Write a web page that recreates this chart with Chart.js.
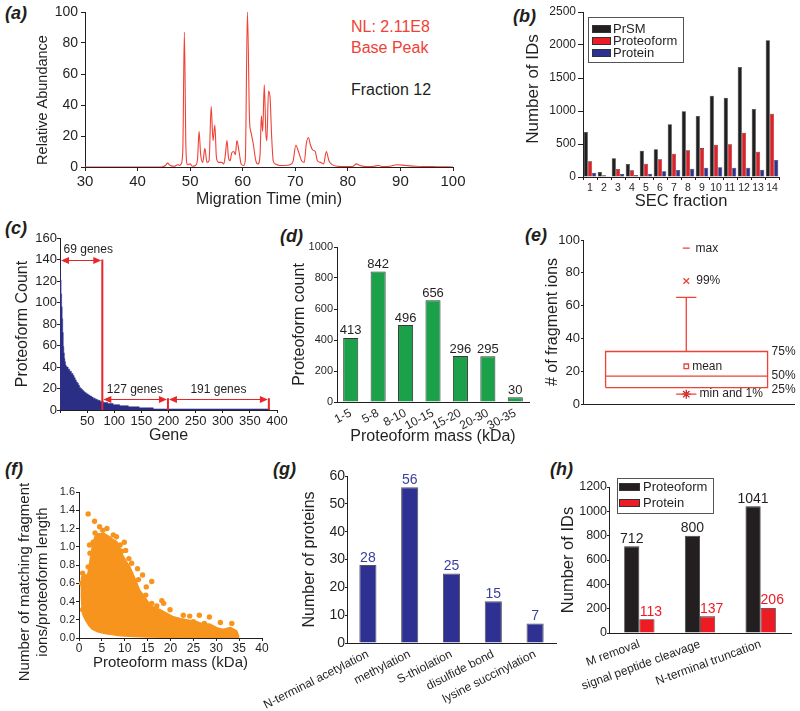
<!DOCTYPE html>
<html>
<head>
<meta charset="utf-8">
<script src="https://cdn.jsdelivr.net/npm/chart.js@4.4.0/dist/chart.umd.min.js"></script>
<style>
  body { margin: 0; width: 800px; height: 711px; position: relative; overflow: hidden; background: #fff;
         font-family: "Liberation Sans", Arial, sans-serif; color: #231f20; }
  canvas { position: absolute; }
  .tag { position: absolute; font-size: 18px; font-weight: bold; font-style: italic; line-height: 1; }
  .note { position: absolute; font-size: 16px; line-height: 1; white-space: nowrap; }
</style>
</head>
<body>
<div class="tag" style="left:5px;top:4px">(a)</div>
<div class="tag" style="left:513px;top:7px">(b)</div>
<div class="tag" style="left:5px;top:219px">(c)</div>
<div class="tag" style="left:280px;top:227px">(d)</div>
<div class="tag" style="left:525px;top:226px">(e)</div>
<div class="tag" style="left:5px;top:460px">(f)</div>
<div class="tag" style="left:273px;top:460px">(g)</div>
<div class="tag" style="left:550px;top:460px">(h)</div>
<div class="note" style="left:351px;top:19px;color:#ef4136">NL: 2.11E8</div>
<div class="note" style="left:351px;top:40px;color:#ef4136">Base Peak</div>
<div class="note" style="left:351px;top:82px">Fraction 12</div>

<script>
// (a) base peak electropherogram, fraction 12
const migrationTime = [
  30, 44.5, 45.3, 45.7, 46.2, 47, 47.6, 48, 48.3, 48.6,
  48.9, 49.2, 49.5, 50, 50.4, 51, 51.4, 51.7, 52.0, 52.4,
  52.8, 53.2, 53.6, 54.0, 54.35, 54.7, 55.0, 55.4, 56, 56.4,
  56.7, 57.0, 57.3, 57.6, 57.9, 58.3, 58.6, 58.9, 59.3, 59.7,
  60.2, 60.5, 60.9, 61.3, 61.6, 62.0, 62.5, 62.9, 63.3, 63.55,
  63.8, 64.1, 64.4, 64.6, 64.9, 65.2, 65.5, 65.8, 66.2, 67,
  68, 69, 69.6, 70.1, 70.6, 71.2, 71.7, 72.1, 72.5, 72.9,
  73.3, 73.8, 74.2, 74.8, 75.4, 75.9, 76.4, 77, 78, 80,
  81, 81.6, 82.3, 83.5, 85, 85.8, 86.6, 88, 89.3, 91,
  93, 95, 97, 100
];
const relAbundance = [
  0, 0, 1, 2.5, 1, 0.5, 1.5, 1, 2, 10,
  87, 12, 1.5, 2, 0.5, 1, 5, 23, 8, 3,
  12, 3, 4, 39, 17, 27, 6, 3, 3, 2,
  8, 17, 6, 4, 9, 10, 8, 17, 10, 2,
  1, 5, 100, 30, 22, 15, 4, 2, 8, 33,
  23, 53, 22, 17, 49, 45, 20, 4, 2, 1,
  1, 1.5, 4, 14, 10, 4, 3, 15, 19, 14,
  11, 10, 4, 3, 2, 10, 4, 1.5, 0.5, 0.3,
  0.5, 2, 1, 0.3, 0.5, 1, 0.3, 0.5, 1.5, 1,
  0.5, 0.3, 0.2, 0
];

// (b) IDs per SEC fraction
const secFractions = ['1','2','3','4','5','6','7','8','9','10','11','12','13','14'];
const prsmIds       = [682, 76, 283, 197, 399, 419, 798, 995, 924, 1232, 1202, 1667, 1030, 2071];
const proteoformIds = [237, 25, 121, 101, 202, 268, 354, 404, 439, 490, 495, 672, 384, 960];
const proteinIds    = [66, 10, 45, 30, 50, 86, 106, 126, 141, 146, 141, 141, 111, 258];

// (c) proteoforms per gene, sorted, as runs of equal count
const runCounts  = [145,132,121,108,96,85,72,59,53,48,45,42,41,40,38,36,34,32,30,28,26,25,23,21,20,19,18,17,16,15,14,13,12,11,10,9,8,7,6,5,4,3,2,1];
const runLengths = [1,1,1,1,1,1,1,1,1,1,1,1,3,3,3,3,2,2,2,2,2,2,2,2,2,2,2,3,3,3,3,3,4,4,5,6,8,10,12,16,20,26,24,191];
const geneGroupEdges  = [78, 199, 385];
const geneGroupTops   = [140, 11, 11];
const geneGroupLevels = [140, 10, 10];
const geneGroupLabels = ['69 genes', '127 genes', '191 genes'];

// (d) proteoform mass distribution
const massBins = ['1-5', '5-8', '8-10', '10-15', '15-20', '20-30', '30-35'];
const massCounts = [413, 842, 496, 656, 296, 295, 30];

// (e) fragment ions per PrSM
const fragP1 = 6, fragMin = 6, fragQ1 = 10, fragMedian = 17, fragMean = 23, fragQ3 = 32;
const fragWhisker = 65, fragP99 = 75, fragMax = 95;

// (f) matching fragment ions / proteoform length vs mass
const coreMass = [1.0, 0.8, 0.8, 1.5, 2.2, 2.7, 3.1, 3.7, 4.2, 5.5, 6.5, 7.2, 8.0, 8.7, 9.3, 10.0, 10.8, 11.5, 12.2, 13.0,
  14.0, 15.0, 16.0, 17.5, 19.0, 20.5, 22.0, 24.0, 25.5, 27.0, 28.5, 30.0, 31.5, 33.0, 34.2, 34.6, 34.6,
  30, 25, 20, 15, 12, 10, 8, 6, 5, 4, 3, 2.3, 1.7, 1.2, 1.0];
const coreRatio = [0.28, 0.45, 0.66, 0.66, 0.70, 0.85, 0.98, 1.10, 1.13, 1.13, 1.10, 1.07, 1.05, 0.98, 0.90, 0.84, 0.78, 0.70, 0.62, 0.52,
  0.45, 0.38, 0.33, 0.30, 0.26, 0.22, 0.20, 0.18, 0.17, 0.14, 0.14, 0.10, 0.08, 0.10, 0.07, 0.02, 0.01,
  0.012, 0.015, 0.02, 0.025, 0.03, 0.035, 0.045, 0.06, 0.07, 0.085, 0.11, 0.15, 0.20, 0.25, 0.28];
const outlierMass  = [2.0, 3.4, 4.5, 6.1, 5.2, 7.5, 8.2, 9.9, 10.2, 10.9, 11.5, 12.8, 13.9, 15.9, 14.7, 14.6, 18.1, 18.5, 15.9, 17.0,
  19.9, 22.8, 24.2, 26.3, 25.0, 28.5, 27.4, 30.9, 33.4, 33.1, 34.2, 0.8, 1.3, 2.0, 2.4, 2.3, 3.1, 3.5, 0.95, 0.6,
  0.8, 12.3, 13.0, 9.3, 9.0];
const outlierRatio = [1.36, 1.28, 1.22, 1.20, 1.18, 1.13, 1.11, 1.05, 0.96, 0.87, 0.82, 0.76, 0.69, 0.62, 0.56, 0.47, 0.41, 0.38, 0.38, 0.35,
  0.31, 0.25, 0.24, 0.25, 0.18, 0.23, 0.16, 0.17, 0.16, 0.09, 0.05, 0.71, 0.67, 0.78, 0.93, 1.02, 1.05, 1.15, 0.56, 0.60,
  0.31, 0.55, 0.64, 0.95, 1.02];

// (g) PTMs
const ptmTypes = ['N-terminal acetylation', 'methylation', 'S-thiolation', 'disulfide bond', 'lysine succinylation'];
const ptmProteins = [28, 56, 25, 15, 7];

// (h) proteolytic processing
const cleavageTypes = ['M removal', 'signal peptide cleavage', 'N-terminal truncation'];
const cleavageProteoforms = [712, 800, 1041];
const cleavageProteins = [113, 137, 206];

const FONT = '"Liberation Sans", Arial, sans-serif';
const INK = '#231f20';
const RED = '#ed1c24';
const NAVY = '#2e3192';
Chart.defaults.font.family = FONT;
Chart.defaults.color = INK;
Chart.defaults.animation = false;
Chart.defaults.responsive = false;
Chart.defaults.devicePixelRatio = 1;
Chart.defaults.plugins.legend.display = false;
Chart.defaults.plugins.tooltip.enabled = false;

// a panel = canvas rect + plot area rect, in page pixels
function frame(x, y, w, h, l, t, r, b) { return {x, y, w, h, l, t, r, b}; }

function canvasFor(f) {
  const c = document.createElement('canvas');
  c.width = f.w; c.height = f.h;
  c.style.left = f.x + 'px'; c.style.top = f.y + 'px';
  c.style.width = f.w + 'px'; c.style.height = f.h + 'px';
  document.body.appendChild(c);
  return c;
}

function layoutFor(f) {
  return {padding: {left: 0, bottom: 0, top: f.t - f.y, right: f.x + f.w - f.r}};
}

const plain = v => String(v);

function tickOpts(o) {
  const t = {display: o.tick > 0, stepSize: o.step, font: {size: o.tick}, padding: o.pad, autoSkip: false,
             minRotation: o.rot || 0, maxRotation: o.rot || 0};
  if (o.fmt) t.callback = o.fmt;
  return t;
}

function yAxis(f, o) {
  return {
    min: o.min, max: o.max,
    border: {display: true, color: INK, width: 1},
    grid: {drawOnChartArea: false, tickLength: o.tl, color: INK},
    ticks: tickOpts(Object.assign({fmt: plain}, o)),
    title: {display: !!o.title, text: o.title, color: INK, font: {size: o.size},
            padding: {top: o.title ? o.cx - f.x - o.size * 0.6 : 0, bottom: 0}},
    afterFit: s => { s.width = f.l - f.x; s.paddingTop = 0; s.paddingBottom = 0; }
  };
}

function xAxis(f, o) {
  return {
    type: o.type, min: o.min, max: o.max, offset: o.offset,
    border: {display: true, color: INK, width: 1},
    grid: {display: o.tl > 0, drawOnChartArea: false, tickLength: o.tl, color: INK},
    ticks: tickOpts(o),
    title: {display: !!o.title, text: o.title, color: INK, font: {size: o.size},
            padding: {top: 0, bottom: o.title ? f.y + f.h - o.cy - o.size * 0.6 : 0}},
    afterFit: s => { s.height = f.y + f.h - f.b; s.paddingLeft = 0; s.paddingRight = 0; }
  };
}

// rotated axis title placed freely (page coords of its centre)
function vTitle(f, lines, size, cx, cy) {
  return chart => {
    const ctx = chart.ctx;
    ctx.save();
    ctx.translate(cx - f.x, cy - f.y);
    ctx.rotate(-Math.PI / 2);
    ctx.font = size + 'px ' + FONT; ctx.fillStyle = INK;
    ctx.textAlign = 'center'; ctx.textBaseline = 'middle';
    lines.forEach((t, i) => ctx.fillText(t, 0, i * size * 1.2));
    ctx.restore();
  };
}

function valueLabels(dsIndex, color, size, dx) {
  return chart => {
    const ctx = chart.ctx, ds = chart.data.datasets[dsIndex];
    ctx.save();
    ctx.font = size + 'px ' + FONT;
    ctx.fillStyle = color; ctx.textAlign = 'center'; ctx.textBaseline = 'alphabetic';
    chart.getDatasetMeta(dsIndex).data.forEach((bar, i) => ctx.fillText(ds.data[i], bar.x + dx, bar.y - 3.5));
    ctx.restore();
  };
}

function boxLegend(f, box, rows) {
  return chart => {
    const ctx = chart.ctx;
    ctx.save();
    ctx.strokeStyle = '#555'; ctx.lineWidth = 1;
    ctx.fillStyle = '#fff';
    ctx.fillRect(box.x - f.x, box.y - f.y, box.w, box.h);
    ctx.strokeRect(box.x - f.x + 0.5, box.y - f.y + 0.5, box.w, box.h);
    ctx.font = box.font + 'px ' + FONT; ctx.textBaseline = 'middle'; ctx.textAlign = 'left';
    rows.forEach((r, i) => {
      const cy = box.rows[i] - f.y;
      ctx.fillStyle = r.color;
      ctx.fillRect(box.sx - f.x, cy - box.sh / 2, box.sw, box.sh);
      ctx.strokeStyle = '#333';
      ctx.strokeRect(box.sx - f.x + 0.5, cy - box.sh / 2 + 0.5, box.sw - 1, box.sh - 1);
      ctx.fillStyle = INK;
      ctx.fillText(r.label, box.tx - f.x, cy + 0.5);
    });
    ctx.restore();
  };
}

let extraId = 0;
function drawer(fns) {
  extraId += 1;
  return {id: 'extras' + extraId, afterDraw(chart) { fns.forEach(fn => fn(chart)); }};
}

// ---------- (a)
const fa = frame(0, 0, 470, 215, 85, 12, 453, 167);
new Chart(canvasFor(fa), {
  type: 'line',
  data: {datasets: [{
    data: migrationTime.map((t, i) => ({x: t, y: relAbundance[i]})),
    borderColor: '#ef4136', borderWidth: 1.1, pointRadius: 0, cubicInterpolationMode: 'monotone'
  }]},
  options: {
    layout: layoutFor(fa),
    scales: {
      x: xAxis(fa, {type: 'linear', min: 30, max: 100, step: 10, tick: 15, tl: 4, pad: 2, fmt: plain,
                    title: 'Migration Time (min)', size: 16, cy: 200}),
      y: yAxis(fa, {min: 0, max: 100, step: 20, tick: 14, tl: 4, pad: 3})
    }
  },
  plugins: [drawer([vTitle(fa, ['Relative Abundance'], 14.5, 43, 100)])]
});

// ---------- (b)
const fb = frame(475, 0, 320, 212, 583, 12, 779, 177);
const barB = {borderColor: '#333', borderWidth: 0.6, barPercentage: 1, categoryPercentage: 0.9};
new Chart(canvasFor(fb), {
  type: 'bar',
  data: {labels: secFractions, datasets: [
    {label: 'PrSM', data: prsmIds, backgroundColor: INK, ...barB},
    {label: 'Proteoform', data: proteoformIds, backgroundColor: RED, ...barB},
    {label: 'Protein', data: proteinIds, backgroundColor: NAVY, ...barB}
  ]},
  options: {
    layout: layoutFor(fb),
    scales: {
      x: xAxis(fb, {type: 'category', offset: true, tick: 10.5, tl: 3, pad: 2,
                    title: 'SEC fraction', size: 16.5, cy: 201}),
      y: yAxis(fb, {min: 0, max: 2500, step: 500, tick: 12, tl: 5, pad: 2})
    }
  },
  plugins: [drawer([
    vTitle(fb, ['Number of IDs'], 17, 533, 89),
    boxLegend(fb, {x: 588, y: 17, w: 95, h: 45, rows: [29, 41, 53], sx: 592, sw: 19, sh: 8, tx: 613, font: 13},
      [{label: 'PrSM', color: INK}, {label: 'Proteoform', color: RED}, {label: 'Protein', color: NAVY}])
  ])]
});

// ---------- (c)
const fc = frame(0, 225, 292, 222, 60, 238, 277, 410);
let geneStart = 0;
const geneSteps = runCounts.map((c, i) => { const p = {x: geneStart, y: c}; geneStart += runLengths[i]; return p; });
geneSteps.push({x: geneStart, y: runCounts[runCounts.length - 1]});
const geneLabelAt = [52, 138, 292];
new Chart(canvasFor(fc), {
  type: 'line',
  data: {datasets: [{
    data: geneSteps, stepped: 'after', fill: 'origin',
    backgroundColor: '#2b2e85', borderColor: '#2b2e85', borderWidth: 0.5, pointRadius: 0
  }]},
  options: {
    layout: layoutFor(fc),
    scales: {
      x: xAxis(fc, {type: 'linear', min: 0, max: 400, step: 50, tick: 13, tl: 3, pad: 1,
                    fmt: v => v === 0 ? '' : String(v), title: 'Gene', size: 16, cy: 436}),
      y: yAxis(fc, {min: 0, max: 160, step: 20, tick: 13, tl: 3, pad: 0,
                    title: 'Proteoform Count', size: 16, cx: 23})
    }
  },
  plugins: [drawer([chart => {
    const ctx = chart.ctx, xs = chart.scales.x, ys = chart.scales.y;
    ctx.save();
    ctx.strokeStyle = '#e8262a'; ctx.fillStyle = '#e8262a';
    ctx.lineWidth = 2;
    geneGroupEdges.forEach((g, i) => {
      ctx.beginPath();
      ctx.moveTo(xs.getPixelForValue(g), ys.getPixelForValue(0));
      ctx.lineTo(xs.getPixelForValue(g), ys.getPixelForValue(geneGroupTops[i]));
      ctx.stroke();
    });
    ctx.lineWidth = 1;
    geneGroupLevels.forEach((lv, i) => {
      const x0 = xs.getPixelForValue(i === 0 ? 0 : geneGroupEdges[i - 1]) + 1;
      const x1 = xs.getPixelForValue(geneGroupEdges[i]) - 1;
      const y = Math.round(ys.getPixelForValue(lv)) + 0.5;
      ctx.beginPath(); ctx.moveTo(x0 + 4, y); ctx.lineTo(x1 - 4, y); ctx.stroke();
      [[x0, 1], [x1, -1]].forEach(([xe, d]) => {
        ctx.beginPath(); ctx.moveTo(xe, y); ctx.lineTo(xe + d * 8, y - 3.5); ctx.lineTo(xe + d * 8, y + 3.5);
        ctx.closePath(); ctx.fill();
      });
    });
    ctx.fillStyle = INK; ctx.font = '12px ' + FONT; ctx.textAlign = 'center'; ctx.textBaseline = 'middle';
    geneGroupLabels.forEach((t, i) => {
      ctx.fillText(t, xs.getPixelForValue(geneLabelAt[i]), ys.getPixelForValue(geneGroupLevels[i]) - 10);
    });
    ctx.restore();
  }])]
});

// ---------- (d)
const fd = frame(275, 225, 262, 222, 337, 247, 529, 402);
new Chart(canvasFor(fd), {
  type: 'bar',
  data: {labels: massBins, datasets: [{
    data: massCounts, backgroundColor: '#1ba14a', borderColor: '#3a3a3a', borderWidth: 1,
    barPercentage: 0.55, categoryPercentage: 1
  }]},
  options: {
    layout: layoutFor(fd),
    scales: {
      x: xAxis(fd, {type: 'category', offset: true, tick: 12, tl: 0, pad: 4, rot: 28,
                    title: 'Proteoform mass (kDa)', size: 16, cy: 437}),
      y: yAxis(fd, {min: 0, max: 1000, step: 200, tick: 11, tl: 3, pad: 1,
                    title: 'Proteoform count', size: 16, cx: 300})
    }
  },
  plugins: [drawer([valueLabels(0, INK, 13, 0)])]
});

// ---------- (e)
const fe = frame(520, 225, 280, 200, 583, 240, 795, 404);
const boxLeft = 0.107, boxRight = 0.874, boxMid = 0.489, capHalf = 0.048;
const boxRed = '#ef4136';
const seg = pts => ({data: pts, showLine: true, borderColor: boxRed, borderWidth: 1.3, pointRadius: 0});
const mark = (y, style, r, extra) => Object.assign({data: [{x: boxMid, y}], pointStyle: style, pointRadius: r,
  borderColor: boxRed, backgroundColor: boxRed, borderWidth: 1.3}, extra || {});
const boxNotes = [
  {t: 'max', x: 0.533, y: fragMax}, {t: '99%', x: 0.536, y: fragP99}, {t: 'mean', x: 0.517, y: fragMean},
  {t: 'min and 1%', x: 0.552, y: fragMin}, {t: '75%', x: 0.893, y: fragQ3}, {t: '50%', x: 0.893, y: fragMedian},
  {t: '25%', x: 0.893, y: fragQ1, dy: 2}
];
new Chart(canvasFor(fe), {
  type: 'scatter',
  data: {datasets: [
    seg([{x: boxLeft, y: fragQ1}, {x: boxRight, y: fragQ1}, {x: boxRight, y: fragQ3}, {x: boxLeft, y: fragQ3}, {x: boxLeft, y: fragQ1}]),
    seg([{x: boxLeft, y: fragMedian}, {x: boxRight, y: fragMedian}]),
    seg([{x: boxMid, y: fragQ3}, {x: boxMid, y: fragWhisker}]),
    seg([{x: boxMid - capHalf, y: fragWhisker}, {x: boxMid + capHalf, y: fragWhisker}]),
    seg([{x: boxMid - capHalf, y: fragMin}, {x: boxMid + capHalf, y: fragMin}]),
    mark(fragMean, 'rect', 3.2, {backgroundColor: '#fff'}),
    mark(fragP99, 'crossRot', 4),
    mark(fragMax, 'line', 3.5),
    mark(fragP1, 'star', 4.5, {borderColor: '#c1272d'})
  ]},
  options: {
    layout: layoutFor(fe),
    scales: {
      x: xAxis(fe, {type: 'linear', min: 0, max: 1, tick: 0, tl: 0, pad: 0}),
      y: yAxis(fe, {min: 0, max: 100, step: 20, tick: 13, tl: 2, pad: 1,
                    title: '# of fragment ions', size: 16, cx: 553})
    }
  },
  plugins: [drawer([chart => {
    const ctx = chart.ctx, xs = chart.scales.x, ys = chart.scales.y;
    ctx.save();
    ctx.fillStyle = INK; ctx.font = '12px ' + FONT; ctx.textAlign = 'left'; ctx.textBaseline = 'middle';
    boxNotes.forEach(n => ctx.fillText(n.t, xs.getPixelForValue(n.x), ys.getPixelForValue(n.y) + (n.dy || 0)));
    ctx.restore();
  }])]
});

// ---------- (f)
const ff = frame(0, 455, 275, 235, 79, 492, 262, 638);
const ORANGE = '#f7941d';
new Chart(canvasFor(ff), {
  type: 'scatter',
  data: {datasets: [
    {type: 'line', data: coreMass.map((m, i) => ({x: m, y: coreRatio[i]})), fill: 'shape',
     backgroundColor: ORANGE, borderColor: ORANGE, borderWidth: 4, borderJoinStyle: 'round', pointRadius: 0, tension: 0},
    {data: outlierMass.map((m, i) => ({x: m, y: outlierRatio[i]})), backgroundColor: ORANGE, borderWidth: 0, pointRadius: 2.7}
  ]},
  options: {
    layout: layoutFor(ff),
    scales: {
      x: xAxis(ff, {type: 'linear', min: 0, max: 40, step: 5, tick: 12, tl: 3, pad: 0, fmt: plain,
                    title: 'Proteoform mass (kDa)', size: 15, cy: 663}),
      y: yAxis(ff, {min: 0, max: 1.6, step: 0.2, tick: 11, tl: 3, pad: 1, fmt: v => v.toFixed(1)})
    }
  },
  plugins: [drawer([vTitle(ff, ['Number of matching fragment', 'ions/proteoform length'], 15, 25, 582)])]
});

// ---------- (g)
const fg = frame(250, 455, 310, 256, 347, 476, 556, 643);
new Chart(canvasFor(fg), {
  type: 'bar',
  data: {labels: ptmTypes, datasets: [{
    data: ptmProteins, backgroundColor: NAVY, borderColor: '#555', borderWidth: 1,
    barPercentage: 0.41, categoryPercentage: 1
  }]},
  options: {
    layout: layoutFor(fg),
    scales: {
      x: xAxis(fg, {type: 'category', offset: true, tick: 12, tl: 0, pad: 4, rot: 27}),
      y: yAxis(fg, {min: 0, max: 60, step: 10, tick: 14, tl: 2, pad: 0,
                    title: 'Number of proteins', size: 16, cx: 310})
    }
  },
  plugins: [drawer([valueLabels(0, '#3b3f9c', 14, 0)])]
});

// ---------- (h)
const fh = frame(530, 455, 270, 256, 609, 487, 791, 633);
new Chart(canvasFor(fh), {
  type: 'bar',
  data: {labels: cleavageTypes, datasets: [
    {label: 'Proteoform', data: cleavageProteoforms, backgroundColor: INK, borderColor: '#333', borderWidth: 0.8,
     barPercentage: 1, categoryPercentage: 0.5},
    {label: 'Protein', data: cleavageProteins, backgroundColor: RED, borderColor: '#333', borderWidth: 0.8,
     barPercentage: 1, categoryPercentage: 0.5}
  ]},
  options: {
    layout: layoutFor(fh),
    scales: {
      x: xAxis(fh, {type: 'category', offset: true, tick: 12, tl: 0, pad: 4, rot: 20}),
      y: yAxis(fh, {min: 0, max: 1200, step: 200, tick: 12.5, tl: 2, pad: 0,
                    title: 'Number of IDs', size: 16.5, cx: 568})
    }
  },
  plugins: [drawer([
    valueLabels(0, INK, 14, 0),
    valueLabels(1, RED, 14, 4),
    boxLegend(fh, {x: 617, y: 478, w: 96, h: 35, rows: [487, 503], sx: 619, sw: 21, sh: 8, tx: 643, font: 13},
      [{label: 'Proteoform', color: INK}, {label: 'Protein', color: RED}])
  ])]
});
</script>
</body>
</html>
